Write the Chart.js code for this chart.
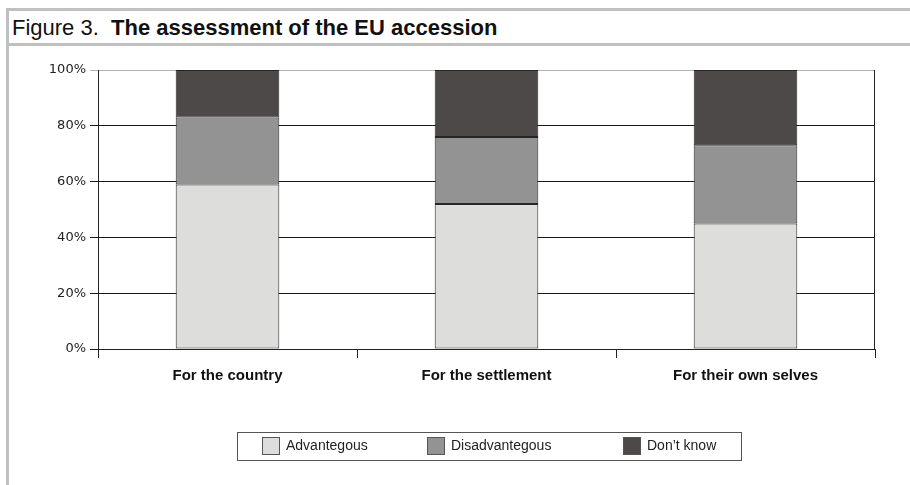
<!DOCTYPE html>
<html>
<head>
<meta charset="utf-8">
<script src="https://cdn.jsdelivr.net/npm/chart.js@4"></script>
<style>
  body { margin: 0; background: #fff; }
  #wrap { position: relative; width: 910px; height: 485px; overflow: hidden; }
  .bar { position: absolute; background: #c0c0c0; }
  #title { position: absolute; left: 12px; top: 15px; font-family: "Liberation Sans", Arial, sans-serif; font-size: 22px; color: #111; white-space: pre; }
  #title b { font-weight: bold; }
  #chart { position: absolute; left: 0; top: 0; }
  #legend { position: absolute; left: 237px; top: 432px; width: 503px; height: 27px; border: 1px solid #555; font-family: "Liberation Sans", Arial, sans-serif; font-size: 14px; color: #222; }
  .item { position: absolute; top: 4px; height: 19px; line-height: 19px; }
  .sw { position: absolute; left: 0; top: 0; width: 16px; height: 16px; border: 1px solid #555; }
  .lbl { position: absolute; left: 24px; top: -1px; white-space: nowrap; }
</style>
</head>
<body>
<div id="wrap">
  <div class="bar" style="left:6px;top:8px;width:904px;height:3px"></div>
  <div class="bar" style="left:6px;top:43px;width:904px;height:3px"></div>
  <div class="bar" style="left:6px;top:8px;width:3px;height:477px"></div>
  <div id="title">Figure 3.  <b>The assessment of the EU accession</b></div>
  <canvas id="chart" width="910" height="485"></canvas>
  <div id="legend"></div>
</div>
<script>
var categories = ['For the country', 'For the settlement', 'For their own selves'];
var seriesNames = ['Advantegous', 'Disadvantegous', 'Don\u2019t know'];
var advantegous = [59, 52, 45];
var disadvantegous = [24, 24, 28];
var dontKnow = [17, 24, 27];
var yTicks = [0, 20, 40, 60, 80, 100];
var colors = ['#dddddc', '#939393', '#4d4948'];

var seriesData = [advantegous, disadvantegous, dontKnow];

var datasets = seriesData.map(function (d, i) {
    return {
        label: seriesNames[i],
        data: d,
        backgroundColor: colors[i],
        borderColor: '#262626',
        borderWidth: 1,
        borderSkipped: false
    };
});

// closing line on the right side of the plot
var rightBorder = {
    id: 'rightBorder',
    beforeDatasetsDraw: function (chart) {
        var a = chart.chartArea;
        var c = chart.ctx;
        c.save();
        c.strokeStyle = '#222222';
        c.lineWidth = 1;
        c.beginPath();
        c.moveTo(Math.round(a.right) - 0.5, a.top);
        c.lineTo(Math.round(a.right) - 0.5, a.bottom);
        c.stroke();
        c.restore();
    }
};

var ctx = document.getElementById('chart').getContext('2d');
var chart = new Chart(ctx, {
    type: 'bar',
    data: {
        labels: categories,
        datasets: datasets
    },
    plugins: [rightBorder],
    options: {
        responsive: false,
        animation: false,
        categoryPercentage: 0.4,
        barPercentage: 1,
        layout: {
            padding: { top: 70, right: 35, left: 0, bottom: 0 }
        },
        plugins: {
            legend: { display: false },
            tooltip: { enabled: false }
        },
        scales: {
            x: {
                stacked: true,
                afterFit: function (scale) { scale.height = 136; },
                border: { color: '#222222', width: 1 },
                grid: {
                    offset: true,
                    drawOnChartArea: false,
                    tickColor: '#222222',
                    tickLength: 9
                },
                ticks: {
                    color: '#111111',
                    padding: 9,
                    font: { family: '"Liberation Sans", Arial, sans-serif', size: 15, weight: 'bold' }
                }
            },
            y: {
                stacked: true,
                min: 0,
                max: 100,
                afterFit: function (scale) { scale.width = 98; },
                afterBuildTicks: function (scale) {
                    scale.ticks = yTicks.map(function (v) { return { value: v }; });
                },
                border: { color: '#222222', width: 1 },
                grid: {
                    color: function (c) { return c.tick && c.tick.value === 100 ? '#b4b4b4' : '#1a1a1a'; },
                    tickColor: function (c) { return c.tick && c.tick.value === 100 ? '#b4b4b4' : '#1a1a1a'; },
                    tickLength: 8
                },
                ticks: {
                    color: '#222222',
                    padding: 4,
                    font: { family: '"DejaVu Sans", Verdana, sans-serif', size: 13 },
                    callback: function (v) { return v + '%'; }
                }
            }
        }
    }
});

// legend with a box around it, like the original
var legendPos = [24, 189, 385];
var legend = document.getElementById('legend');
seriesNames.forEach(function (name, i) {
    var item = document.createElement('div');
    item.className = 'item';
    item.style.left = legendPos[i] + 'px';
    item.innerHTML = '<span class="sw" style="background:' + colors[i] + '"></span><span class="lbl">' + name + '</span>';
    legend.appendChild(item);
});
</script>
</body>
</html>
